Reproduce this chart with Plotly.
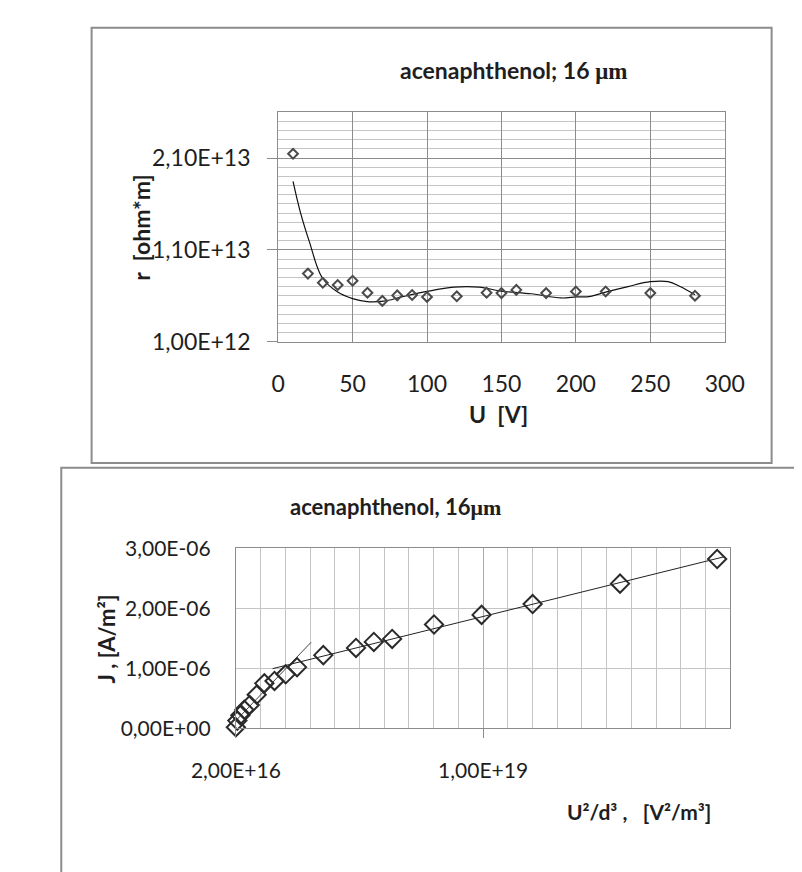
import plotly.graph_objects as go

# ---------------- data: top chart (resistivity vs voltage) ----------------
top_U = [10, 20, 30, 40, 50, 60, 70, 80, 90, 100, 120, 140, 150, 160, 180, 200, 220, 250, 280]
top_r = [2.146e13, 8.42e12, 7.43e12, 7.18e12, 7.64e12, 6.34e12, 5.45e12, 6.05e12, 6.09e12, 5.88e12,
         5.95e12, 6.34e12, 6.30e12, 6.65e12, 6.30e12, 6.48e12, 6.48e12, 6.30e12, 6.02e12]
# trend curve
fit_U = [10, 15, 21, 29.5, 40, 50, 61, 71, 83, 100, 118, 135, 150, 170, 190, 200, 210, 220, 235, 250, 262, 270, 280]
fit_r = [1.846e13, 1.506e13, 1.188e13, 8.0e12, 6.41e12, 5.7e12, 5.35e12, 5.42e12, 5.88e12, 6.48e12, 6.94e12,
         6.94e12, 6.51e12, 6.23e12, 5.77e12, 5.88e12, 5.95e12, 6.41e12, 7.01e12, 7.54e12, 7.54e12, 7.01e12, 6.12e12]
top_xticks = [0, 50, 100, 150, 200, 250, 300]
top_yticks = [1e12, 1.1e13, 2.1e13]
top_ylabels = ["1,00E+12", "1,10E+13", "2,10E+13"]

# ---------------- data: bottom chart (J vs U^2/d^3) ----------------
bot_x = [2.0e16, 8e16, 2.0e17, 3.6e17, 5.8e17, 8.6e17, 1.17e18, 1.58e18, 2.03e18, 2.49e18, 3.55e18,
         4.87e18, 5.59e18, 6.33e18, 8.02e18, 9.94e18, 1.20e19, 1.553e19, 1.945e19]
bot_J = [0.02e-6, 0.13e-6, 0.22e-6, 0.31e-6, 0.39e-6, 0.56e-6, 0.75e-6, 0.79e-6, 0.90e-6, 1.02e-6, 1.22e-6,
         1.34e-6, 1.44e-6, 1.49e-6, 1.73e-6, 1.89e-6, 2.07e-6, 2.41e-6, 2.82e-6]
trend1_x = [1.502e18, 1.976e19]
trend1_J = [0.995e-6, 2.86e-6]
trend2_x = [2.0e16, 3.06e18]
trend2_J = [0.13e-6, 1.435e-6]
bot_xticks = [2e16, 1e19]
bot_xlabels = ["2,00E+16", "1,00E+19"]
bot_yticks = [0, 1e-6, 2e-6, 3e-6]
bot_ylabels = ["0,00E+00", "1,00E-06", "2,00E-06", "3,00E-06"]

W, H = 802, 872
def X(p):
    return p / W
def Y(p):
    return 1 - p / H

FONT = "Lato"
TXT = "#1e1e1e"
GRID_D = "#8c8c8c"
GRID_L = "#c4c4c4"

fig = go.Figure()

# top chart
fig.add_trace(go.Scatter(x=fit_U, y=fit_r, mode="lines", xaxis="x", yaxis="y",
                         line=dict(color="#111111", width=1.2, shape="spline", smoothing=1.0),
                         hoverinfo="skip", showlegend=False))
fig.add_trace(go.Scatter(x=top_U, y=top_r, mode="markers", xaxis="x", yaxis="y",
                         marker=dict(symbol="diamond-open", size=7.5, color="#4a4a4a",
                                     line=dict(width=2, color="#4a4a4a")),
                         showlegend=False))

# bottom chart
fig.add_trace(go.Scatter(x=trend1_x, y=trend1_J, mode="lines", xaxis="x2", yaxis="y2",
                         line=dict(color="#222222", width=1), showlegend=False, cliponaxis=False))
fig.add_trace(go.Scatter(x=trend2_x, y=trend2_J, mode="lines", xaxis="x2", yaxis="y2",
                         line=dict(color="#444444", width=1), showlegend=False, cliponaxis=False))
fig.add_trace(go.Scatter(x=bot_x, y=bot_J, mode="markers", xaxis="x2", yaxis="y2",
                         marker=dict(symbol="diamond-open", size=14, color="#2a2a2a",
                                     line=dict(width=2, color="#2a2a2a")),
                         showlegend=False, cliponaxis=False))

tick_top = dict(family=FONT, size=23, color=TXT)
tick_bot = dict(family=FONT, size=21, color=TXT)

fig.update_layout(
    width=W, height=H,
    margin=dict(l=0, r=0, t=0, b=0),
    paper_bgcolor="white", plot_bgcolor="white",
    showlegend=False,
    xaxis=dict(domain=[X(245), X(731)], anchor="y", range=[0, 300],
               tickmode="array", tickvals=top_xticks, ticktext=[str(v) for v in top_xticks],
               showgrid=True, gridcolor=GRID_D, gridwidth=1, zeroline=False,
               showline=True, mirror=True, linecolor=GRID_D, linewidth=1,
               ticks="", tickfont=tick_top, ticklabelstandoff=22),
    yaxis=dict(domain=[Y(330), Y(93)], anchor="x", range=[1e12, 2.6e13],
               tickmode="array", tickvals=top_yticks, ticktext=top_ylabels,
               showgrid=True, gridcolor=GRID_D, gridwidth=1, zeroline=False,
               showline=True, mirror=True, linecolor=GRID_D, linewidth=1,
               ticks="outside", ticklen=10, tickcolor=GRID_D, tickwidth=1,
               tickfont=tick_top, ticklabelstandoff=12,
               minor=dict(tickmode="linear", tick0=1e12, dtick=1e12, showgrid=True,
                          gridcolor=GRID_L, gridwidth=1, ticks="")),
    xaxis2=dict(domain=[X(199), X(737)], anchor="y2", range=[2e16, 1.998e19],
                tickmode="array", tickvals=bot_xticks, ticktext=bot_xlabels,
                showgrid=True, gridcolor="#a8a8a8", gridwidth=1, zeroline=False,
                showline=True, mirror=True, linecolor=GRID_D, linewidth=1,
                ticks="outside", ticklen=9, tickcolor=GRID_D, tickwidth=1,
                tickfont=tick_bot, ticklabelstandoff=14,
                minor=dict(tickmode="linear", tick0=2e16, dtick=9.98e17, showgrid=True,
                           gridcolor=GRID_L, gridwidth=1, ticks="")),
    yaxis2=dict(domain=[Y(729), Y(543)], anchor="x2", range=[0, 3e-6],
                tickmode="array", tickvals=bot_yticks, ticktext=bot_ylabels,
                showgrid=True, gridcolor=GRID_L, gridwidth=1, zeroline=False,
                showline=True, mirror=True, linecolor=GRID_D, linewidth=1,
                ticks="", tickfont=tick_bot, ticklabelstandoff=20),
)

def ann(text, x, y, size, bold=True, angle=0, color=TXT):
    t = f"<b>{text}</b>" if bold else text
    fig.add_annotation(text=t, x=X(x), y=Y(y), xref="paper", yref="paper",
                       xanchor="center", yanchor="middle", showarrow=False, textangle=angle,
                       font=dict(family=FONT, size=size, color=color))

MU = "<span style=\"font-family:'Liberation Serif'\">\u03bcm</span>"
ann("acenaphthenol; 16 " + MU, 501, 50, 23)
ann("r  [ohm*m]", 96, 212, 23, angle=-90)
ann("U  [V]", 485, 405, 23)
ann("acenaphthenol, 16" + MU, 373, 500, 22)
ann("J , [A/m\u00b2]", 58, 637, 22, angle=-90)
ann("U\u00b2/d\u00b3 ,\u00a0\u00a0 [V\u00b2/m\u00b3]", 638, 815, 21)

# chart-area borders
fig.add_shape(type="rect", xref="paper", yref="paper", x0=X(42), y0=Y(455), x1=X(782), y1=Y(6),
              line=dict(color="#8c8c8c", width=2), fillcolor="rgba(0,0,0,0)", layer="below")
fig.add_shape(type="rect", xref="paper", yref="paper", x0=X(9), y0=Y(890), x1=X(815), y1=Y(460),
              line=dict(color="#8c8c8c", width=2), fillcolor="rgba(0,0,0,0)", layer="below")

fig.write_html("out.html")
